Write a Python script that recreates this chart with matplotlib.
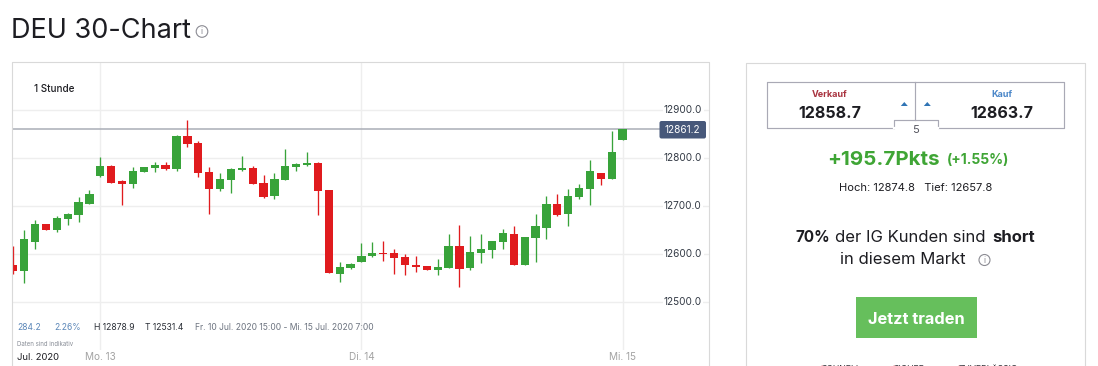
import numpy as np
import matplotlib.pyplot as plt
from matplotlib.patches import Rectangle, Circle, Polygon, FancyBboxPatch

plt.rcParams['font.family'] = ['Inter', 'DejaVu Sans']

# candle values, one list per field
highs = [12617.4, 12650.7, 12671.5, 12663.2, 12679.9, 12686.1, 12719.4, 12734.0, 12802.8, 12786.1,
         12754.9, 12782.0, 12782.0, 12792.4, 12792.4, 12848.6, 12878.9, 12836.1, 12782.0, 12769.4,
         12779.9, 12804.8, 12784.0, 12765.3, 12769.4, 12819.4, 12790.3, 12813.2, 12792.4, 12734.0,
         12584.0, 12581.9, 12623.6, 12625.7, 12627.8, 12611.1, 12600.7, 12596.5, 12575.7, 12590.3,
         12642.4, 12661.1, 12638.2, 12642.4, 12627.8, 12652.8, 12659.0, 12636.1, 12684.0, 12721.5,
         12725.7, 12736.1, 12746.5, 12796.5, 12769.4, 12856.9, 12861.1]
tops = [12577.8, 12631.9, 12663.2, 12663.2, 12675.7, 12684.0, 12709.0, 12725.7, 12784.0, 12784.0,
        12752.8, 12773.6, 12782.0, 12786.1, 12786.1, 12846.5, 12846.5, 12831.9, 12771.5, 12756.9,
        12777.8, 12779.9, 12779.9, 12748.6, 12756.9, 12784.0, 12788.2, 12790.3, 12790.3, 12734.0,
        12573.6, 12579.8, 12596.5, 12602.8, 12602.8, 12602.8, 12594.4, 12577.8, 12575.7, 12573.6,
        12617.4, 12617.4, 12604.9, 12611.1, 12627.8, 12644.4, 12642.4, 12636.1, 12659.0, 12704.9,
        12704.9, 12721.5, 12738.2, 12773.6, 12769.4, 12813.2, 12861.1]
bottoms = [12565.3, 12565.3, 12625.7, 12650.7, 12650.7, 12673.6, 12681.9, 12704.9, 12763.2, 12748.6,
           12746.5, 12746.5, 12771.5, 12779.9, 12777.8, 12777.8, 12829.9, 12769.4, 12736.1, 12736.1,
           12754.9, 12775.7, 12746.5, 12719.4, 12721.5, 12754.9, 12782.0, 12786.1, 12731.9, 12561.1,
           12559.0, 12571.5, 12584.0, 12596.5, 12600.7, 12592.4, 12577.8, 12573.6, 12567.4, 12567.4,
           12571.5, 12569.4, 12571.5, 12602.8, 12609.0, 12625.7, 12577.8, 12577.8, 12634.0, 12654.9,
           12681.9, 12684.0, 12719.4, 12736.1, 12756.9, 12756.9, 12838.2]
lows = [12559.0, 12540.3, 12611.1, 12650.7, 12646.5, 12661.1, 12667.4, 12704.9, 12761.1, 12748.6,
        12702.8, 12738.2, 12771.5, 12771.5, 12775.7, 12773.6, 12823.6, 12761.1, 12684.0, 12731.9,
        12727.8, 12773.6, 12746.5, 12717.3, 12715.3, 12754.9, 12773.6, 12784.0, 12681.9, 12561.1,
        12542.4, 12569.4, 12584.0, 12594.4, 12586.1, 12559.0, 12556.9, 12563.2, 12567.4, 12556.9,
        12571.5, 12531.4, 12567.4, 12581.9, 12592.4, 12611.1, 12577.8, 12577.8, 12584.0, 12631.9,
        12679.9, 12659.0, 12715.3, 12702.8, 12744.4, 12756.9, 12838.2]
# 1 = rising (green), 0 = falling (red)
rising = [0, 1, 1, 0, 1, 1, 1, 1, 1, 0,
          0, 1, 1, 1, 0, 1, 0, 0, 0, 1,
          1, 1, 0, 0, 1, 1, 1, 1, 0, 0,
          1, 1, 1, 1, 0, 0, 0, 0, 0, 1,
          1, 0, 1, 1, 1, 1, 0, 1, 1, 1,
          0, 1, 1, 1, 0, 1, 1]

y_ticks = [12500, 12600, 12700, 12800, 12900]
x_ticks = [8, 32, 56]
x_labels = ['Mo. 13', 'Di. 14', 'Mi. 15']
last_price = 12861.2

GREEN = '#38a33a'
RED = '#e01b1e'
GRID = '#eeeeee'
BORDER = '#d9d9d9'
W, H = 1098, 366

fig = plt.figure(figsize=(W / 100, H / 100), dpi=100, facecolor='white')

# chart area, placed in pixels
left, right, top, bottom = 12, 709, 62, 350
ax = fig.add_axes([left / W, 1 - bottom / H, (right - left) / W, (bottom - top) / H])
ax.set_xlim(-0.12, 63.94)
ax.set_ylim(12400.6, 13000.6)
for s in ax.spines.values():
    s.set_visible(False)
ax.set_xticks(x_ticks)
ax.set_xticklabels(x_labels, fontsize=7.2, color='#a3a3a3')
ax.set_yticks(y_ticks)
ax.set_yticklabels([])
ax.tick_params(length=0, pad=1.5)
ax.grid(True, color=GRID, lw=1)
ax.set_axisbelow(True)

idx = np.arange(len(highs))
colors = [GREEN if r else RED for r in rising]
ax.vlines(idx, lows, highs, colors=colors, lw=0.95, zorder=3)
ax.bar(idx, np.array(tops) - np.array(bottoms), bottom=bottoms, width=0.76, color=colors,
       linewidth=0, zorder=3)

ax.hlines(last_price, -0.12, 59.5, color='#a9aeb6', lw=1.1, zorder=2)

# y labels sit inside the chart, over the grid
for v in y_ticks:
    ax.text(59.8, v, f'{v:.1f}', fontsize=7.2, color='#333a45', ha='left', va='center',
            bbox=dict(facecolor='white', edgecolor='none', pad=1), zorder=4)

# everything else in page pixels
pg = fig.add_axes([0, 0, 1, 1], facecolor='none')
pg.set_xlim(0, W)
pg.set_ylim(H, 0)
pg.axis('off')


def info_icon(x, y, r, col='#8b8b93'):
    pg.add_patch(Circle((x, y), r, fill=False, edgecolor=col, lw=0.8))
    pg.text(x, y + 0.2, 'i', fontsize=r * 1.1, color=col, ha='center', va='center')


pg.text(11, 30.5, 'DEU 30-Chart', fontsize=19.5, color='#1d1d22', ha='left', va='center')
info_icon(202, 31.5, 5.8)

# chart frame runs off the bottom of the page
pg.plot([left, left, right, right], [H, top, top, H], color=BORDER, lw=0.8)

pg.text(34, 89.5, '1 Stunde', fontsize=7.1, color='#1d1d22', weight='medium', va='center')

pg.add_patch(FancyBboxPatch((660.5, 122), 44.5, 15.5, boxstyle='round,pad=1,rounding_size=2',
                            facecolor='#47587a', edgecolor='none'))
pg.text(682.5, 129.7, '12861.2', fontsize=7.2, color='white', ha='center', va='center')

pg.text(17, 327, '284.2', fontsize=6.1, color='#5a86b8', va='center')
pg.text(54.5, 327, '2.26%', fontsize=6.1, color='#5a86b8', va='center')
pg.text(94, 327, 'H 12878.9', fontsize=6.2, color='#2a2e36', va='center')
pg.text(145, 327, 'T 12531.4', fontsize=6.2, color='#2a2e36', va='center')
pg.text(195, 327, 'Fr. 10 Jul. 2020 15:00 - Mi. 15 Jul. 2020 7:00', fontsize=6.15, color='#6d7480', va='center')
pg.text(17, 343.5, 'Daten sind indikativ', fontsize=4.4, color='#8a8f98', va='center')
pg.text(17, 357.5, 'Jul. 2020', fontsize=6.8, color='#1d1d22', va='center')

# right panel
pg.plot([746, 746, 1085, 1085], [H, 62.5, 62.5, H], color=BORDER, lw=0.8)

box = '#a9a9b5'
pg.plot([893.5, 767, 767, 1064, 1064, 937.5, 937.5, 893.5, 893.5],
        [127.5, 127.5, 82, 82, 127.5, 127.5, 119.5, 119.5, 127.5], color=box, lw=0.85)
pg.plot([915.3, 915.3], [82, 119.5], color=box, lw=0.85)
pg.plot([893.5, 937.5], [127.5, 127.5], color='white', lw=1.6)
for x in [904.3, 927.3]:
    pg.add_patch(Polygon([[x - 3.5, 106], [x + 3.5, 106], [x, 102]], color='#2f74b5', lw=0))

pg.text(830, 94.7, 'Verkauf', fontsize=6.5, color='#a8323e', weight='bold', ha='center', va='center')
pg.text(1001.7, 94.7, 'Kauf', fontsize=6.5, color='#4a86c8', weight='bold', ha='center', va='center')
pg.text(830, 113.5, '12858.7', fontsize=11.5, color='#1d1d22', weight='bold', ha='center', va='center')
pg.text(1001.7, 113.5, '12863.7', fontsize=11.5, color='#1d1d22', weight='bold', ha='center', va='center')
pg.text(915.5, 130, '5', fontsize=8, color='#55555f', ha='center', va='center')

pg.text(827, 160, '+195.7Pkts', fontsize=14.8, color='#3fa535', weight='bold', ha='left', va='center')
pg.text(947, 160, '(+1.55%)', fontsize=10, color='#3fa535', weight='bold', ha='left', va='center')
pg.text(915.5, 187.7, 'Hoch: 12874.8   Tief: 12657.8', fontsize=8, color='#1d1d22', ha='center', va='center')

pg.text(795, 237, '70%', fontsize=11, color='#1d1d22', weight='bold', ha='left', va='center')
pg.text(835, 237, 'der IG Kunden sind', fontsize=12, color='#1d1d22', ha='left', va='center')
pg.text(992, 237, 'short', fontsize=12, color='#1d1d22', weight='bold', ha='left', va='center')
pg.text(840.5, 260, 'in diesem Markt', fontsize=12, color='#1d1d22', ha='left', va='center')
info_icon(984.5, 260, 5.5)

pg.add_patch(Rectangle((856, 297), 121, 41, facecolor='#66bf5c', edgecolor='none'))
pg.text(916.5, 319, 'Jetzt traden', fontsize=11.8, color='white', weight='bold', ha='center', va='center')

# bottom row is cut off by the page edge
for x, label in zip([815, 887, 952], ['SCHNELL', 'SICHER', 'ZUVERLÄSSIG']):
    pg.text(x, 368, '✓', fontsize=7, color='#c0202a', ha='left', va='center')
    pg.text(x + 7, 369.5, label, fontsize=6.3, color='#33333a', ha='left', va='center')

fig.savefig('out.png', dpi=100)
